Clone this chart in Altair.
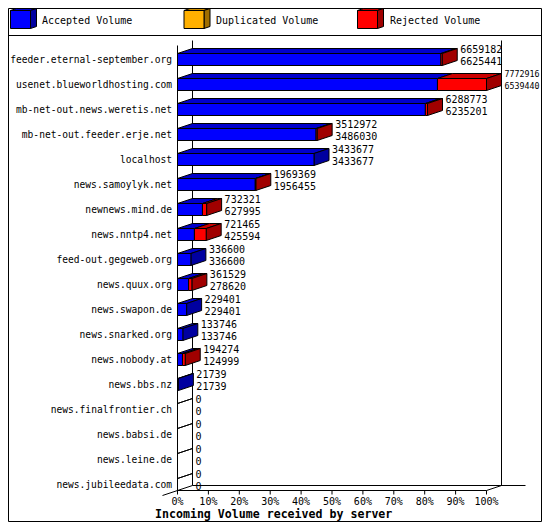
import altair as alt
import pandas as pd

# ---------------- data ----------------
hosts = [
    "feeder.eternal-september.org", "usenet.blueworldhosting.com",
    "mb-net-out.news.weretis.net", "mb-net-out.feeder.erje.net",
    "localhost", "news.samoylyk.net", "newnews.mind.de", "news.nntp4.net",
    "feed-out.gegeweb.org", "news.quux.org", "news.swapon.de",
    "news.snarked.org", "news.nobody.at", "news.bbs.nz",
    "news.finalfrontier.ch", "news.babsi.de", "news.leine.de",
    "news.jubileedata.com",
]
total_volume = [6659182, 7772916, 6288773, 3512972, 3433677, 1969369, 732321,
                721465, 336600, 361529, 229401, 133746, 194274, 21739, 0, 0, 0, 0]
accepted_volume = [6625441, 6539440, 6235201, 3486030, 3433677, 1956455, 627995,
                   425594, 336600, 278620, 229401, 133746, 124999, 21739, 0, 0, 0, 0]
duplicated_volume = [0, 0, 0, 0, 0, 0, 0, 0, 0, 0, 0, 0, 0, 0, 0, 0, 0, 0]

series = ["Accepted Volume", "Duplicated Volume", "Rejected Volume"]
front_colors = ["#0000FF", "#FFB000", "#FF0000"]
top_colors = ["#0000CC", "#CC8D00", "#CC0000"]
side_colors = ["#0000A0", "#A06E00", "#A00000"]

tick_values = [0, 10, 20, 30, 40, 50, 60, 70, 80, 90, 100]
tick_labels = ["0%", "10%", "20%", "30%", "40%", "50%", "60%", "70%", "80%", "90%", "100%"]
x_title = "Incoming Volume received by server"

# ---------------- layout (pixels, chart coordinates = page - 8) ----------------
CHART_W, CHART_H = 534, 514
X0_PX, X100_PX = 169.5, 478.5
ROW0_PX, ROW_PX = 51.5, 25.0
DEPTH_X_PX, DEPTH_Y_PX = 15.0, 5.0
FACE_HALF_PX = 6.0
LABEL_GAP_PX = 3.0
LABEL_RIGHT_LIMIT = CHART_W - 2.5
FONT = "DejaVu Sans Mono"
CHAR_EM = 0.602

PX_PER_PCT = (X100_PX - X0_PX) / 100.0
DX = DEPTH_X_PX / PX_PER_PCT
DY = DEPTH_Y_PX / ROW_PX
H = FACE_HALF_PX / ROW_PX
n = len(hosts)
PCT = 100.0 / max(total_volume)


def px_x(px):
    return (px - X0_PX) / PX_PER_PCT


def px_y(py):
    return (py - ROW0_PX) / ROW_PX


xs = alt.Scale(domain=[0, 100], range=[X0_PX, X100_PX], nice=False, zero=False)
ys = alt.Scale(domain=[0, n - 1], range=[ROW0_PX, ROW0_PX + ROW_PX * (n - 1)],
               nice=False, zero=False)

front_rows, top_rows, side_rows, label_rows = [], [], [], []
for i in range(n):
    acc, dup, tot = accepted_volume[i], duplicated_volume[i], total_volume[i]
    bounds = [0, acc, acc + dup, tot]
    last = 0
    for k in range(3):
        a, b = bounds[k] * PCT, bounds[k + 1] * PCT
        if b > a:
            front_rows.append(dict(x=a, x2=b, y=i - H, y2=i + H, fill=front_colors[k]))
            fid = f"{i}-{k}"
            top_rows.append(dict(face=fid, y=i - H, x=a, x2=b, fill=top_colors[k]))
            top_rows.append(dict(face=fid, y=i - H - DY, x=a + DX, x2=b + DX, fill=top_colors[k]))
            last = k
    if tot == 0:
        fid = f"{i}-z"
        top_rows.append(dict(face=fid, y=i - H, x=0.0, x2=0.0, fill=top_colors[0]))
        top_rows.append(dict(face=fid, y=i - H - DY, x=DX, x2=DX, fill=top_colors[0]))
    else:
        e = tot * PCT
        side_rows.append(dict(face=f"s{i}", x=e, y=i - H, y2=i + H, fill=side_colors[last]))
        side_rows.append(dict(face=f"s{i}", x=e + DX, y=i - H - DY, y2=i + H - DY, fill=side_colors[last]))
    lx = tot * PCT + DX + LABEL_GAP_PX / PX_PER_PCT
    start_px = X0_PX + lx * PX_PER_PCT
    for txt, dy in [(str(tot), -0.4), (str(acc), 0.08)]:
        fs = 10.0
        if start_px + CHAR_EM * fs * len(txt) > LABEL_RIGHT_LIMIT:
            fs = (LABEL_RIGHT_LIMIT - start_px) / (CHAR_EM * len(txt))
        label_rows.append(dict(x=lx, y=i + dy, text=txt, fs=fs))

front_df = pd.DataFrame(front_rows)
top_df = pd.DataFrame(top_rows)
side_df = pd.DataFrame(side_rows)
label_df = pd.DataFrame(label_rows)
cat_df = pd.DataFrame({"host": hosts, "y": list(range(n))})
tick_df = pd.DataFrame({"x": tick_values, "label": tick_labels})

last_row = n - 1
back_end = px_x(X100_PX + DEPTH_X_PX + 24)
frame_lines = [
    dict(x=0, x2=0, y=-0.56, y2=last_row + H),                      # front left axis
    dict(x=DX, x2=DX, y=-0.76, y2=last_row + H - DY),               # back left axis
    dict(x=100 + DX, x2=100 + DX, y=-0.76, y2=last_row + H - DY),   # back right
    dict(x=0, x2=100, y=last_row + H, y2=last_row + H),             # front floor
    dict(x=DX, x2=back_end, y=last_row + H - DY, y2=last_row + H - DY),  # back floor
    dict(x=-DX, x2=DX, y=last_row + H + DY, y2=last_row + H - DY),  # left diagonal
    dict(x=100, x2=100 + DX, y=last_row + H, y2=last_row + H - DY),  # right diagonal
]
for t in tick_values:
    frame_lines.append(dict(x=t, x2=t, y=last_row + H, y2=last_row + H + 4 / ROW_PX))
lines_df = pd.DataFrame(frame_lines)

# legend (positions converted into the chart's scale units)
leg_x_px = [2.5, 176.0, 349.5]
leg_text_px = [34.0, 208.0, 382.0]
leg_df = pd.DataFrame({
    "x": [px_x(p) for p in leg_x_px],
    "y": [px_y(2.5)] * 3,
    "tx": [px_x(p) for p in leg_text_px],
    "ty": [px_y(12.5)] * 3,
    "name": series,
    "front": front_colors,
    "top": top_colors,
    "side": side_colors,
})

X = lambda f: alt.X(f, scale=xs, axis=None)
Y = lambda f: alt.Y(f, scale=ys, axis=None)

tops = alt.Chart(top_df).mark_area(orient="horizontal", stroke="black", strokeWidth=1,
                                   interpolate="linear", opacity=1).encode(
    x=alt.X("x:Q", scale=xs, axis=None, stack=None), x2="x2:Q",
    y=Y("y:Q"), detail="face:N", color=alt.Color("fill:N", scale=None))

sides = alt.Chart(side_df).mark_area(orient="vertical", stroke="black", strokeWidth=1,
                                     interpolate="linear", opacity=1).encode(
    x=X("x:Q"), y=alt.Y("y:Q", scale=ys, axis=None, stack=None), y2="y2:Q",
    detail="face:N", color=alt.Color("fill:N", scale=None))

fronts = alt.Chart(front_df).mark_rect(stroke="black", strokeWidth=1).encode(
    x=X("x:Q"), x2="x2:Q", y=Y("y:Q"), y2="y2:Q", color=alt.Color("fill:N", scale=None))

lines = alt.Chart(lines_df).mark_rule(color="black", strokeWidth=1).encode(
    x=X("x:Q"), x2="x2:Q", y=Y("y:Q"), y2="y2:Q")

values = alt.Chart(label_df).mark_text(font=FONT, align="left",
                                       baseline="middle", color="black").encode(
    x=X("x:Q"), y=Y("y:Q"), text="text:N", size=alt.Size("fs:Q", scale=None))

cats = alt.Chart(cat_df).mark_text(font=FONT, fontSize=9.6, align="right",
                                   baseline="middle", color="black").encode(
    x=alt.value(164), y=Y("y:Q"), text="host:N")

ticks = alt.Chart(tick_df).mark_text(font=FONT, fontSize=10, align="center",
                                     baseline="middle", color="black").encode(
    x=X("x:Q"), y=alt.value(494), text="label:N")

title = alt.Chart(pd.DataFrame({"t": [x_title]})).mark_text(
    font=FONT, fontSize=11.6, fontWeight="bold", align="left", baseline="alphabetic",
    color="black").encode(x=alt.value(147), y=alt.value(510), text="t:N")

leg_base = alt.Chart(leg_df)
shape_front = "M0,0H20V18H0Z"
shape_side = "M20,0L26,-2V16L20,18Z"
shape_top = "M0,0L6,-2H26L20,0Z"
leg_layers = []
for shape, col in [(shape_top, "top"), (shape_side, "side"), (shape_front, "front")]:
    leg_layers.append(leg_base.mark_point(shape=shape, size=4, filled=True, opacity=1,
                                          stroke="black", strokeWidth=1).encode(
        x=X("x:Q"), y=Y("y:Q"), color=alt.Color(f"{col}:N", scale=None)))
leg_text = leg_base.mark_text(font=FONT, fontSize=10, align="left", baseline="middle",
                              color="black").encode(x=X("tx:Q"), y=Y("ty:Q"), text="name:N")

one = pd.DataFrame({"a": [0]})
frame = alt.Chart(one).mark_rect(fill=None, stroke="black", strokeWidth=1).encode(
    x=alt.value(0.5), x2=alt.value(CHART_W - 0.5), y=alt.value(0.5), y2=alt.value(CHART_H - 0.5))
sep = alt.Chart(one).mark_rule(color="black", strokeWidth=1).encode(
    x=alt.value(0), x2=alt.value(CHART_W), y=alt.value(27.5))

chart = alt.layer(
    frame, sep, *leg_layers, leg_text, lines, tops, sides, fronts, values, cats, ticks, title
).properties(
    width=CHART_W, height=CHART_H, autosize=alt.AutoSizeParams(type="none"),
    padding=0, background="white"
).configure_view(stroke=None)

chart.save("out.html", embed_options={"renderer": "svg", "actions": False})
